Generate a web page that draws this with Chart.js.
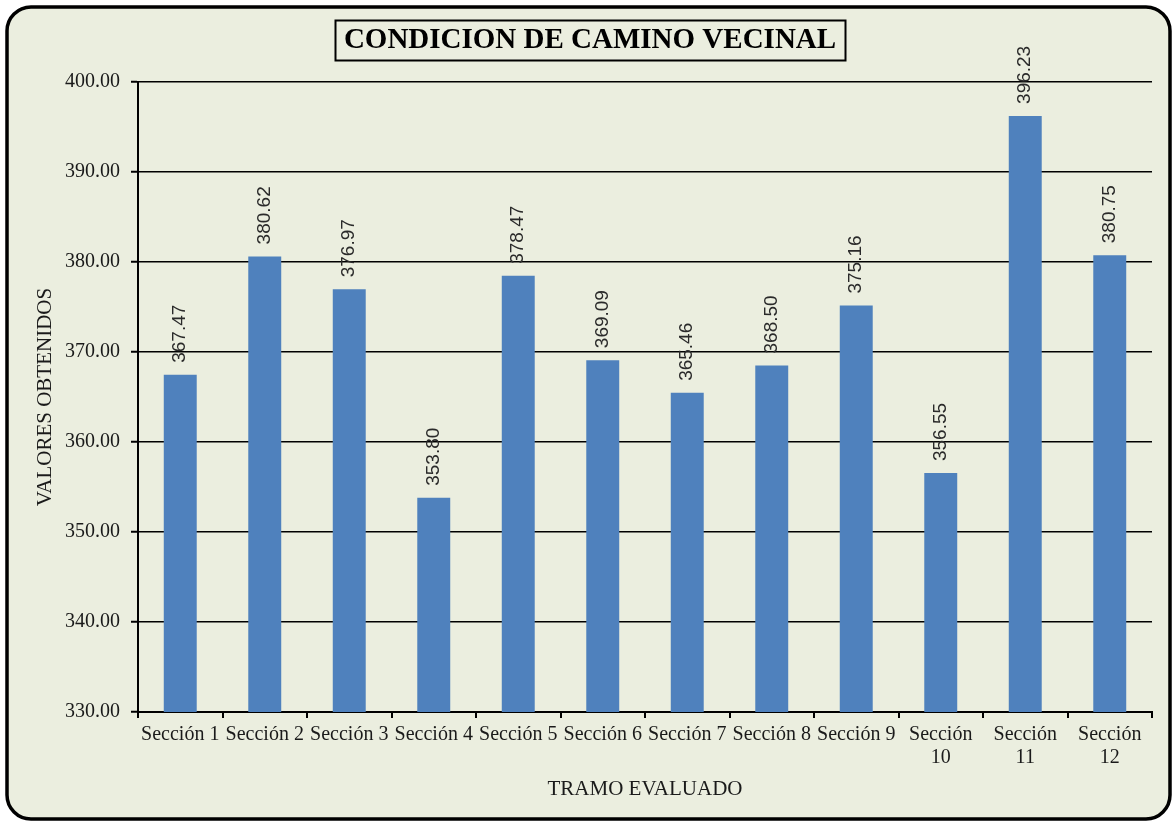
<!DOCTYPE html>
<html>
<head>
<meta charset="utf-8">
<script src="https://cdn.jsdelivr.net/npm/chart.js@4/dist/chart.umd.min.js"></script>
<style>
  html, body { margin: 0; padding: 0; background: #ffffff; }
  #wrap { position: relative; width: 1173px; height: 823px; }
</style>
</head>
<body>
<div id="wrap"><canvas id="c" width="1173" height="823"></canvas></div>
<script>
const chartTitle = "CONDICION DE CAMINO VECINAL";
const categories = ["Sección 1", "Sección 2", "Sección 3", "Sección 4", "Sección 5", "Sección 6",
                    "Sección 7", "Sección 8", "Sección 9", "Sección 10", "Sección 11", "Sección 12"];
const values = [367.47, 380.62, 376.97, 353.80, 378.47, 369.09, 365.46, 368.50, 375.16, 356.55, 396.23, 380.75];
const yMin = 330, yMax = 400, yStep = 10;
const xTitle = "TRAMO EVALUADO";
const yTitle = "VALORES OBTENIDOS";

const BG = '#EBEEDF';
const SERIF = '"Liberation Serif", "Times New Roman", serif';
const SANS = '"Liberation Sans", Arial, sans-serif';

const framePlugin = {
  id: 'frame',
  beforeDraw(chart) {
    const ctx = chart.ctx;
    ctx.save();
    ctx.fillStyle = '#ffffff';
    ctx.fillRect(0, 0, chart.width, chart.height);
    ctx.beginPath();
    ctx.roundRect(7, 7, 1163, 812, 24);
    ctx.fillStyle = BG;
    ctx.fill();
    ctx.restore();
  },
  afterDraw(chart) {
    const ctx = chart.ctx;
    ctx.save();
    ctx.beginPath();
    ctx.roundRect(7, 7, 1163, 812, 24);
    ctx.lineWidth = 3.5;
    ctx.strokeStyle = '#000';
    ctx.stroke();
    ctx.font = 'bold 29px ' + SERIF;
    ctx.textAlign = 'center';
    ctx.textBaseline = 'middle';
    ctx.fillStyle = '#000';
    const cx = 590, cy = 41;
    const w = ctx.measureText(chartTitle).width;
    ctx.fillText(chartTitle, cx, cy);
    ctx.lineWidth = 2;
    ctx.strokeRect(Math.round(cx - w / 2 - 9) + 0.5, 20.5, Math.round(w + 18), 40);
    ctx.restore();
  },
  afterDatasetsDraw(chart) {
    const ctx = chart.ctx;
    const meta = chart.getDatasetMeta(0);
    ctx.save();
    ctx.font = '19px ' + SANS;
    ctx.fillStyle = '#2a2a2a';
    ctx.textAlign = 'left';
    ctx.textBaseline = 'middle';
    meta.data.forEach((bar, i) => {
      ctx.save();
      ctx.translate(bar.x, bar.y - 12);
      ctx.rotate(-Math.PI / 2);
      ctx.fillText(values[i].toFixed(2), 0, 0);
      ctx.restore();
    });
    ctx.restore();
  }
};

new Chart(document.getElementById('c'), {
  type: 'bar',
  data: {
    labels: categories,
    datasets: [{
      data: values,
      backgroundColor: '#4F81BD',
      borderWidth: 0,
      barPercentage: 0.39,
      categoryPercentage: 1.0
    }]
  },
  options: {
    responsive: false,
    animation: false,
    devicePixelRatio: 1,
    layout: { padding: { left: 0, right: 21, top: 82, bottom: 0 } },
    plugins: {
      legend: { display: false },
      title: { display: false },
      tooltip: { enabled: false }
    },
    scales: {
      x: {
        offset: true,
        border: { display: true, color: '#000', width: 2 },
        grid: {
          offset: true,
          drawOnChartArea: true,
          color: (c) => (c.index === categories.length ? '#000' : 'rgba(0,0,0,0)'),
          lineWidth: 2,
          tickColor: '#000',
          tickLength: 6,
          tickWidth: 2
        },
        ticks: {
          color: '#1a1a1a',
          font: { family: SERIF, size: 20, lineHeight: 1.15 },
          padding: 5,
          maxRotation: 0,
          autoSkip: false,
          callback: function (v, i) {
            const l = categories[i];
            return l.length > 9 ? l.split(' ') : l;
          }
        },
        title: {
          display: true,
          text: xTitle,
          color: '#1a1a1a',
          font: { family: SERIF, size: 21, lineHeight: 1.2 },
          padding: { top: 4, bottom: 21 }
        },
        afterFit: (s) => { s.height = 111; }
      },
      y: {
        min: yMin,
        max: yMax,
        border: { display: true, color: '#000', width: 2 },
        grid: {
          color: '#000',
          lineWidth: 1.5,
          tickColor: '#000',
          tickLength: 7,
          tickWidth: 2
        },
        ticks: {
          stepSize: yStep,
          color: '#1a1a1a',
          font: { family: SERIF, size: 20 },
          padding: 11,
          callback: (v) => Number(v).toFixed(2)
        },
        title: {
          display: true,
          text: yTitle,
          color: '#1a1a1a',
          font: { family: SERIF, size: 21, lineHeight: 1.2 },
          padding: { top: 33, bottom: 0 }
        },
        afterFit: (s) => { s.width = 138; }
      }
    }
  },
  plugins: [framePlugin]
});
</script>
</body>
</html>
